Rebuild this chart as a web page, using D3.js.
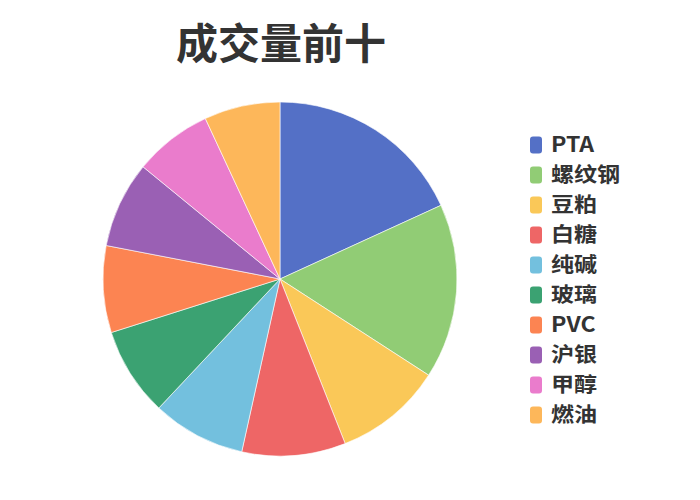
<!DOCTYPE html>
<html>
<head>
<meta charset="utf-8">
<script src="https://cdn.jsdelivr.net/npm/d3@7/dist/d3.min.js"></script>
<style>
  body { margin: 0; background: #fff; }
  text { font-family: "Noto Sans CJK SC", "Noto Sans", sans-serif; }
</style>
</head>
<body>
<div id="chart"></div>
<script>
var names = ['PTA', '螺纹钢', '豆粕', '白糖', '纯碱', '玻璃', 'PVC', '沪银', '甲醇', '燃油'];
var volumes = [1817, 1597, 986, 947, 853, 811, 792, 789, 715, 693];
var colors = ['#5470c6', '#91cc75', '#fac858', '#ee6666', '#73c0de', '#3ba272', '#fc8452', '#9a60b4', '#ea7ccc', '#fdb75a'];

var width = 700, height = 500;
var cx = 280, cy = 279, radius = 177;

var svg = d3.select('#chart').append('svg')
  .attr('width', width)
  .attr('height', height);

var data = names.map(function(n, i) { return { name: n, value: volumes[i] }; });

var pie = d3.pie()
  .sort(null)
  .value(function(d) { return d.value; });

var arc = d3.arc()
  .innerRadius(0)
  .outerRadius(radius);

var color = d3.scaleOrdinal().domain(names).range(colors);

svg.append('g')
  .attr('transform', 'translate(' + cx + ',' + cy + ')')
  .selectAll('path')
  .data(pie(data))
  .enter()
  .append('path')
  .attr('d', arc)
  .attr('fill', function(d) { return color(d.data.name); })
  .attr('stroke', '#fff')
  .attr('stroke-width', 0.6);

// title
svg.append('text')
  .attr('x', 281)
  .attr('y', 59)
  .attr('text-anchor', 'middle')
  .attr('font-size', 42)
  .attr('font-weight', 'bold')
  .attr('fill', '#333')
  .text('成交量前十');

// legend, one row every 30px
var legend = svg.append('g')
  .selectAll('g')
  .data(names)
  .enter()
  .append('g')
  .attr('transform', function(d, i) { return 'translate(530,' + (145 + i * 30) + ')'; });

legend.append('rect')
  .attr('x', 0)
  .attr('y', -8.5)
  .attr('width', 12)
  .attr('height', 17)
  .attr('rx', 3)
  .attr('fill', function(d) { return color(d); });

// CJK line box is tall: keep size under the row pitch, widen a bit instead
legend.append('text')
  .attr('transform', 'translate(21,0) scale(1.12,1)')
  .attr('dy', '0.36em')
  .attr('font-size', 20.6)
  .attr('font-weight', 'bold')
  .attr('fill', '#333')
  .text(function(d) { return d; });
</script>
</body>
</html>
